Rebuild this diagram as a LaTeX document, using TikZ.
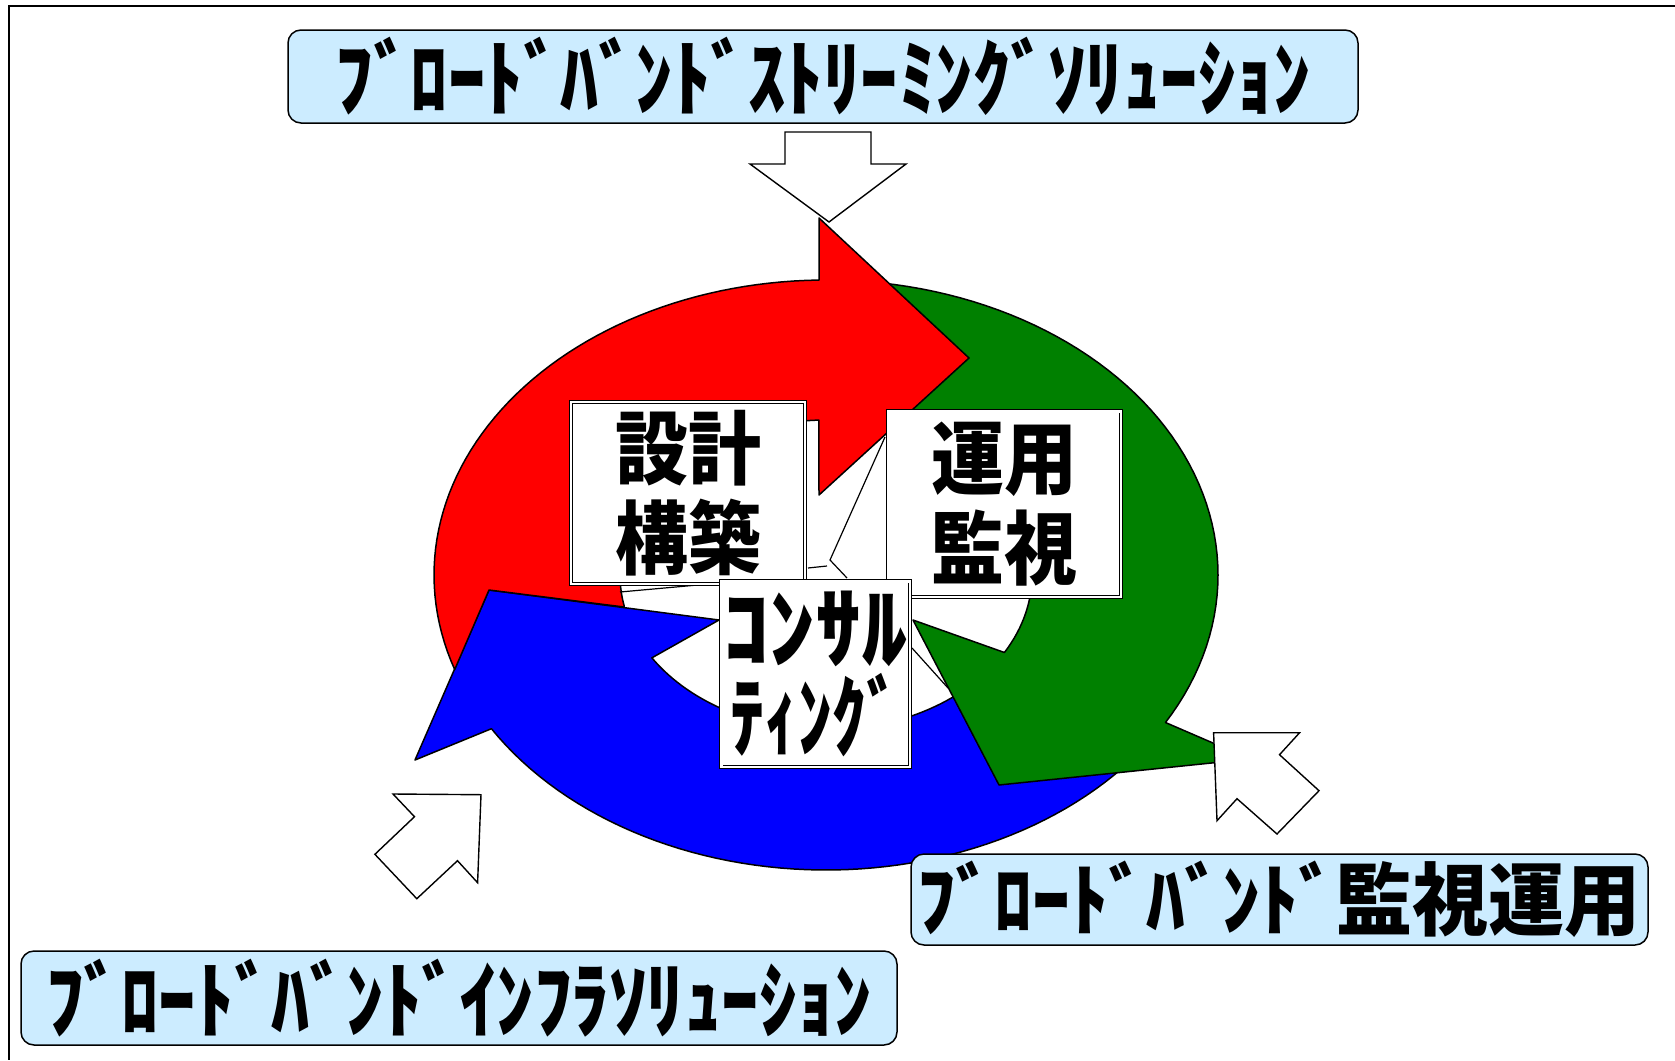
\documentclass[tikz,border=0pt]{standalone}
\usepackage{fontspec}
\newfontfamily\jp{Noto Sans CJK JP}
\definecolor{bannerblue}{HTML}{CCECFF}
\definecolor{ringred}{HTML}{FF0000}
\definecolor{ringgreen}{HTML}{008000}
\definecolor{ringblue}{HTML}{0000FF}
\newcommand{\stretchtext}[2][1.12]{\scalebox{1}[#1]{#2}}
\begin{document}
\begin{tikzpicture}[x=0.5pt,y=-0.5pt,
  ring/.style={draw=black,line width=0.75pt,line join=round},
  hollow/.style={draw=black,line width=0.7pt,fill=white,line join=miter},
  banner/.style={draw=black,line width=0.75pt,fill=bannerblue,rounded corners=6.5pt,inner sep=0pt,
    font={\jp\bfseries\fontsize{37.5}{40}\selectfont}},
  labelbox/.style={draw=black,line width=0.45pt,double=white,double distance=1.3pt,fill=white,
    inner sep=0pt,align=center},
  kanji/.style={font={\jp\bfseries\fontsize{36.5}{45}\selectfont}},
  kana/.style={font={\jp\bfseries\fontsize{40}{44.5}\selectfont}},
  thinline/.style={draw=black,line width=0.6pt}]
\useasboundingbox (0,0) rectangle (1675,1060);
% frame
\draw[line width=0.7pt] (1675,6) -- (9,6) -- (9,1060);
% blue arrow
\path[ring,fill=ringblue] (489,590) -- (415,760) -- (491.4,728.7)
  -- plot[domain=211.4:325,samples=60] ({826+392*cos(\x)},{575-295*sin(\x)})
  -- plot[domain=325:212.3,samples=60] ({826+206*cos(\x)},{575-155*sin(\x)})
  -- (719,620) -- cycle;
% green arrow
\path[ring,fill=ringgreen] plot[domain=88:-30,samples=60] ({826+392*cos(\x)},{575-295*sin(\x)})
  -- (1250,759) -- (999,785) -- (913,620)
  -- plot[domain=-30:88,samples=60] ({826+206*cos(\x)},{575-155*sin(\x)}) -- cycle;
% red arrow
\path[ring,fill=ringred] (819,218) -- (969,358) -- (819,495)
  -- plot[domain=92:191.5,samples=60] ({826+206*cos(\x)},{575-155*sin(\x)})
  -- (624,607) -- (489,590) -- (454.7,669.6)
  -- plot[domain=198.7:91,samples=60] ({826+392*cos(\x)},{575-295*sin(\x)})
  -- cycle;
% thin lines in the centre
\draw[thinline] (885,437) -- (830,560) -- (847,578);
\draw[thinline] (808,568) -- (827,566);
\draw[thinline] (620,592) -- (720,583);
\draw[thinline] (912,648) -- (948,688);
% white block arrows
\draw[hollow] (785,132) -- (871,132) -- (871,164) -- (906,164) -- (829,222) -- (750,164) -- (785,164) -- cycle;
\draw[hollow] (1213.6,732.7) -- (1299.6,732.7) -- (1279.5,754.7) -- (1319,790.7) -- (1277,834) -- (1237,798.7) -- (1217,820.7) -- cycle;
\draw[hollow] (481,794.7) -- (477.6,882.7) -- (457.5,860.7) -- (416.8,898.7) -- (374.9,854.3) -- (414.5,816.7) -- (393,794) -- cycle;
% banners
\node[banner,minimum width=535pt,minimum height=46.5pt] (stream) at (823,76.5) {\stretchtext{ﾌﾞﾛｰﾄﾞﾊﾞﾝﾄﾞｽﾄﾘｰﾐﾝｸﾞｿﾘｭｰｼｮﾝ}};
\node[banner,minimum width=368.5pt,minimum height=45.5pt] (monitor) at (1279.5,899.5) {\stretchtext[1.06]{\scalebox{1.015}[1]{ﾌﾞﾛｰﾄﾞﾊﾞﾝﾄﾞ監視運用}}};
\node[banner,minimum width=438pt,minimum height=47pt] (infra) at (459,998) {\stretchtext{ﾌﾞﾛｰﾄﾞﾊﾞﾝﾄﾞｲﾝﾌﾗｿﾘｭｰｼｮﾝ}};
% label boxes
\node[labelbox,kanji,minimum width=117pt,minimum height=91pt] (design) at (688,493) {\stretchtext[1.1]{設計}\\\stretchtext[1.1]{構築}};
\node[labelbox,kanji,minimum width=116.3pt,minimum height=92.8pt] (ops) at (1004.5,504) {\stretchtext[1.1]{運用}\\\stretchtext[1.1]{監視}};
\node[labelbox,kana,minimum width=94.3pt,minimum height=92.8pt] (consult) at (815.5,674) {\scalebox{1.15}[1.12]{ｺﾝｻﾙ}\\\scalebox{0.85}[1.12]{ﾃｨﾝｸﾞ}};
\end{tikzpicture}
\end{document}
